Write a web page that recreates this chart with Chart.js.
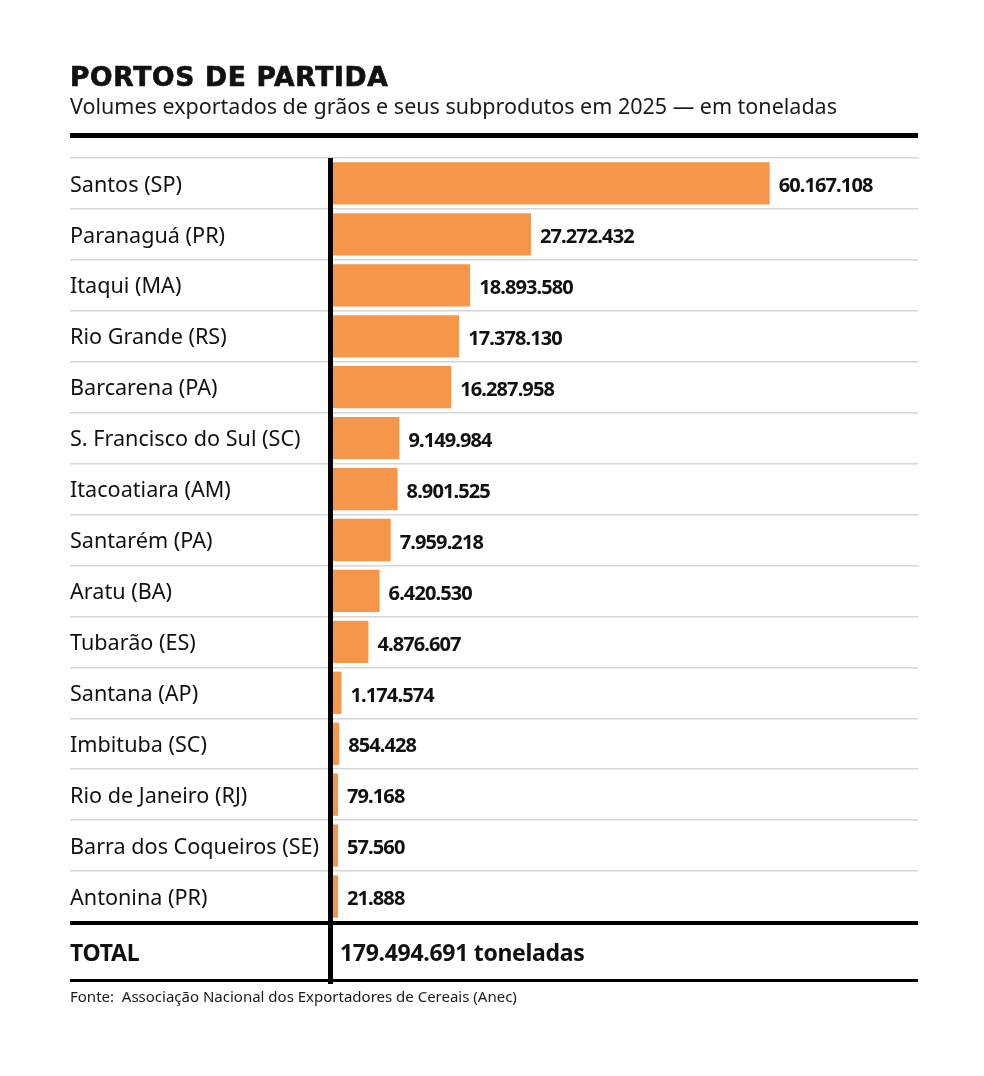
<!DOCTYPE html>
<html lang="pt-BR">
<head>
<meta charset="utf-8">
<title>Portos de partida</title>
<script src="https://cdn.jsdelivr.net/npm/chart.js@4"></script>
<style>
  html, body { margin: 0; padding: 0; background: #fff; }
  #wrap { position: relative; width: 984px; height: 1076px; overflow: hidden; }
  #grafico { position: absolute; left: 0; top: 0; }
  .txt { position: absolute; left: 70px; color: #111; white-space: nowrap; }
  #titulo { top: 64px; font: 700 26.5px "DejaVu Sans", sans-serif; line-height: 26px; letter-spacing: 0.7px; -webkit-text-stroke: 0.7px #111; }
  #subtitulo { top: 91px; font: 400 21.5px "Noto Sans", sans-serif; color: #1a1a1a; }
  #fonte { top: 986px; font: 400 15px "Noto Sans", sans-serif; color: #1a1a1a; }
</style>
</head>
<body>
<div id="wrap">
  <canvas id="grafico" width="984" height="1076"></canvas>
  <div class="txt" id="titulo">PORTOS DE PARTIDA</div>
  <div class="txt" id="subtitulo">Volumes exportados de grãos e seus subprodutos em 2025 — em toneladas</div>
  <div class="txt" id="fonte">Fonte:&nbsp; Associação Nacional dos Exportadores de Cereais (Anec)</div>
</div>
<script>
// Dados
const portos = [
    'Santos (SP)', 'Paranaguá (PR)', 'Itaqui (MA)', 'Rio Grande (RS)', 'Barcarena (PA)',
    'S. Francisco do Sul (SC)', 'Itacoatiara (AM)', 'Santarém (PA)', 'Aratu (BA)', 'Tubarão (ES)',
    'Santana (AP)', 'Imbituba (SC)', 'Rio de Janeiro (RJ)', 'Barra dos Coqueiros (SE)', 'Antonina (PR)'
];
const toneladas = [
    60167108, 27272432, 18893580, 17378130, 16287958,
    9149984, 8901525, 7959218, 6420530, 4876607,
    1174574, 854428, 79168, 57560, 21888
];
const totalRotulo = 'TOTAL';
const totalToneladas = 179494691;
const totalUnidade = 'toneladas';

// Estilo
const corBarra = '#F5964A';
const corTexto = '#111111';
const corGrade = '#d6d6d6';

function formatar(n) {
    return String(n).replace(/\B(?=(\d{3})+(?!\d))/g, '.');
}

// Rotulos de valor, linhas pretas e linha do total
const extras = {
    id: 'extras',
    afterDatasetsDraw(chart) {
        const ctx = chart.ctx;
        const meta = chart.getDatasetMeta(0);
        ctx.save();
        ctx.fillStyle = corTexto;
        ctx.font = '700 20px "Noto Sans", sans-serif';
        ctx.letterSpacing = '-0.9px';
        ctx.textAlign = 'left';
        ctx.textBaseline = 'middle';
        meta.data.forEach((bar, i) => {
            ctx.fillText(formatar(toneladas[i]), bar.x + 9, bar.y + 3);
        });
        ctx.restore();
    },
    afterDraw(chart) {
        const ctx = chart.ctx;
        const area = chart.chartArea;
        const esq = chart.scales.y.left;
        ctx.save();
        ctx.fillStyle = '#000';
        // linha abaixo do subtitulo
        ctx.fillRect(esq, 133, area.right - esq, 5);
        // linha acima do total
        ctx.fillRect(esq, area.bottom - 1, area.right - esq, 4);
        // linha final
        ctx.fillRect(esq, area.bottom + 57, area.right - esq, 3);
        // eixo vertical
        ctx.fillRect(area.left - 5, area.top, 5, area.bottom + 62 - area.top);

        // linha do total
        ctx.fillStyle = corTexto;
        ctx.font = '700 23px "Noto Sans", sans-serif';
        ctx.letterSpacing = '-0.3px';
        ctx.textBaseline = 'middle';
        ctx.fillText(totalRotulo, esq, area.bottom + 32);
        ctx.fillText(formatar(totalToneladas) + ' ' + totalUnidade, area.left + 7, area.bottom + 32);
        ctx.restore();
    }
};

const chart = new Chart(document.getElementById('grafico'), {
    type: 'bar',
    data: {
        labels: portos,
        datasets: [{
            data: toneladas,
            backgroundColor: corBarra,
            borderWidth: 0,
            barPercentage: 0.83,
            categoryPercentage: 1,
            minBarLength: 5
        }]
    },
    options: {
        indexAxis: 'y',
        responsive: false,
        animation: false,
        devicePixelRatio: 1,
        layout: {
            padding: { left: 70, right: 66, top: 158, bottom: 154 }
        },
        plugins: {
            legend: { display: false },
            tooltip: { enabled: false }
        },
        scales: {
            x: {
                display: false,
                min: 0,
                max: 80600000
            },
            y: {
                afterFit(scale) { scale.width = 263; },
                border: { display: false },
                grid: {
                    offset: true,
                    color: corGrade,
                    lineWidth: 1.5,
                    drawTicks: true,
                    tickLength: 263
                },
                ticks: {
                    crossAlign: 'far',
                    labelOffset: 2,
                    color: corTexto,
                    font: { family: 'Noto Sans', size: 21.6, weight: '400' }
                }
            }
        }
    },
    plugins: [extras]
});
</script>
</body>
</html>
